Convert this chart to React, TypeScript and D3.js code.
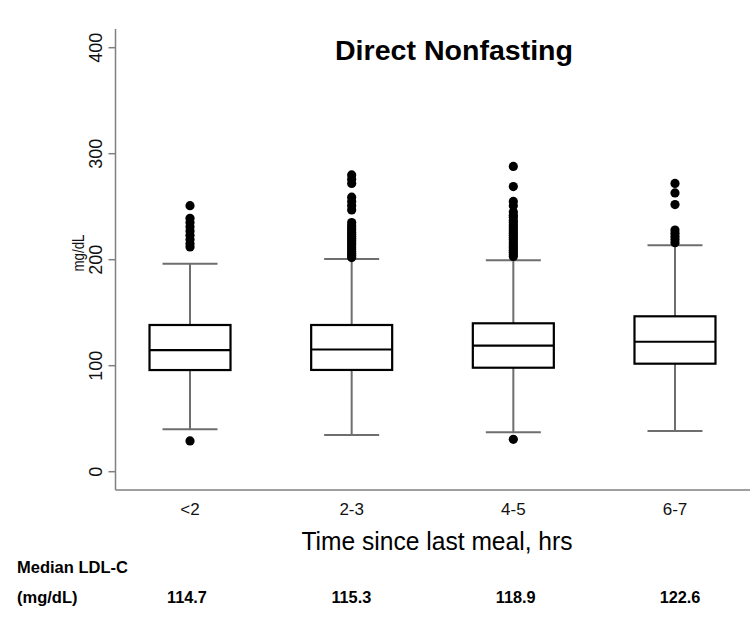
import React from "react";
import * as d3 from "d3";

const categories = ["<2", "2-3", "4-5", "6-7"];
const q1 = [95.9, 96.0, 98.1, 101.9];
const medians = [114.7, 115.3, 118.9, 122.6];
const q3 = [138.4, 138.4, 140.0, 146.6];
const whiskerLow = [40.0, 34.6, 37.2, 38.4];
const whiskerHigh = [196.2, 200.7, 199.4, 213.6];
const outliers1 = [29, 212, 215, 219, 223, 227, 231, 235, 239, 251];
const outliers2 = [
  202, 204, 206, 208, 210, 212, 214, 216, 218, 220, 222, 224, 226, 228, 230, 232, 235,
  247, 251, 255, 259, 272, 276, 280,
];
const outliers3 = [
  30.5, 203, 205, 207, 209, 211, 213, 215, 217, 219, 221, 223, 225, 227, 229, 231, 233,
  235, 237, 240, 242, 245, 251, 255, 269, 288,
];
const outliers4 = [216, 219, 222, 225, 228, 252, 263, 272];
const outliers = [outliers1, outliers2, outliers3, outliers4];
const yTicks = [0, 100, 200, 300, 400];
const medianLabels = ["114.7", "115.3", "118.9", "122.6"];

const FONT = "Liberation Sans, Arial, Helvetica, sans-serif";

export default function App() {
  const width = 752;
  const height = 642;
  const axisX = 115.5;
  const axisBottom = 490;
  const axisTop = 29;
  const y = d3.scaleLinear().domain([0, 400]).range([471.7, 47.7]);
  const x = d3.scalePoint<string>().domain(categories).range([115, 750]).padding(0.464);
  const xLabel = d3.scalePoint<string>().domain(medianLabels).range([187, 680]);
  const boxW = 81;
  const capW = 55;
  const axisColor = "#808080";
  const whiskerColor = "#6e6e6e";

  return (
    <svg
      width={width}
      height={height}
      style={{ position: "absolute", left: 0, top: 0, background: "#fff" }}
      fontFamily={FONT}
    >
      <rect x={0} y={0} width={width} height={height} fill="#fff" />
      {/* axes */}
      <line x1={axisX} x2={axisX} y1={axisTop} y2={axisBottom} stroke={axisColor} strokeWidth={1.5} />
      <line x1={axisX} x2={750} y1={axisBottom} y2={axisBottom} stroke={axisColor} strokeWidth={1.5} />
      {yTicks.map((t) => (
        <g key={t}>
          <line x1={axisX - 7} x2={axisX} y1={y(t)} y2={y(t)} stroke={axisColor} strokeWidth={1.5} />
          <text
            transform={`translate(${axisX - 14},${y(t)}) rotate(-90)`}
            textAnchor="middle"
            fontSize={18}
            fill="#111"
          >
            {t}
          </text>
        </g>
      ))}
      <text
        transform={`translate(84,253) rotate(-90)`}
        textAnchor="middle"
        fontSize={16}
        textLength={37}
        lengthAdjust="spacingAndGlyphs"
        fill="#111"
      >
        mg/dL
      </text>
      <text
        x={454}
        y={60}
        textAnchor="middle"
        fontSize={27}
        fontWeight="bold"
        textLength={238}
        lengthAdjust="spacingAndGlyphs"
        fill="#000"
      >
        Direct Nonfasting
      </text>

      {/* boxes */}
      {categories.map((c, i) => {
        const cx = x(c) as number;
        return (
          <g key={c}>
            <line x1={cx} x2={cx} y1={y(q3[i])} y2={y(whiskerHigh[i])} stroke={whiskerColor} strokeWidth={2} />
            <line x1={cx} x2={cx} y1={y(q1[i])} y2={y(whiskerLow[i])} stroke={whiskerColor} strokeWidth={2} />
            <line
              x1={cx - capW / 2}
              x2={cx + capW / 2}
              y1={y(whiskerHigh[i])}
              y2={y(whiskerHigh[i])}
              stroke={whiskerColor}
              strokeWidth={2}
            />
            <line
              x1={cx - capW / 2}
              x2={cx + capW / 2}
              y1={y(whiskerLow[i])}
              y2={y(whiskerLow[i])}
              stroke={whiskerColor}
              strokeWidth={2}
            />
            <rect
              x={cx - boxW / 2}
              y={y(q3[i])}
              width={boxW}
              height={y(q1[i]) - y(q3[i])}
              fill="#fff"
              stroke="#000"
              strokeWidth={2.2}
            />
            <line
              x1={cx - boxW / 2}
              x2={cx + boxW / 2}
              y1={y(medians[i])}
              y2={y(medians[i])}
              stroke="#000"
              strokeWidth={2.2}
            />
            {outliers[i].map((v, j) => (
              <circle key={j} cx={cx} cy={y(v)} r={4.6} fill="#000" />
            ))}
            <text x={cx} y={515} textAnchor="middle" fontSize={17} fill="#111">
              {c}
            </text>
          </g>
        );
      })}

      {medianLabels.map((m) => (
        <text
          key={m}
          x={xLabel(m) as number}
          y={603}
          textAnchor="middle"
          fontSize={16.3}
          fontWeight="bold"
          fill="#000"
        >
          {m}
        </text>
      ))}

      <text
        x={437}
        y={550}
        textAnchor="middle"
        fontSize={25}
        textLength={271}
        lengthAdjust="spacingAndGlyphs"
        fill="#000"
      >
        Time since last meal, hrs
      </text>
      <text x={17} y={573} fontSize={16.5} fontWeight="bold" fill="#000">
        Median LDL-C
      </text>
      <text x={17} y={603} fontSize={16.5} fontWeight="bold" fill="#000">
        (mg/dL)
      </text>
    </svg>
  );
}
